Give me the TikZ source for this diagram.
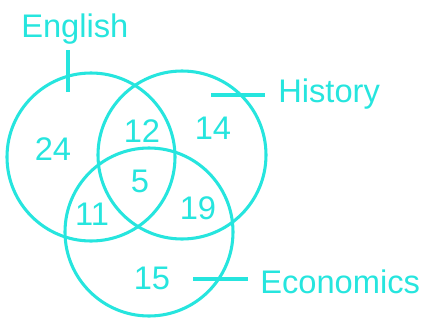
\documentclass[tikz,border=0pt]{standalone}
\usepackage{fontspec}
\setmainfont{Liberation Sans}
\definecolor{venn}{RGB}{38,229,222}
\tikzset{
  set/.style={draw=venn,line width=2.3pt},
  tick/.style={draw=venn,line width=2.3pt},
  num/.style={text=venn,inner sep=0pt,font=\fontsize{24.5}{26}\selectfont},
  setname/.style={text=venn,inner sep=0pt,anchor=base west,font=\fontsize{24.5}{26}\selectfont}
}
\begin{document}
\begin{tikzpicture}[x=0.75pt,y=-0.75pt]
                    \useasboundingbox(0,0)rectangle(426,322);
                    \draw[set](91,157)circle[radius=84];
                    \draw[set](182,155)circle[radius=84];
                    \draw[set](149,232)circle[radius=84];
                    \node[num](eng)at(53,149){24};
                    \node[num](engHis)at(142,131){12};
                    \node[num](his)at(213,128){14};
                    \node[num](all)at(140,181){5};
                    \node[num](engEco)at(92,214){11};
                    \node[num](hisEco)at(198,208){19};
                    \node[num](eco)at(152,278){15};
                    \node[setname](english)at(21,37){English};
                    \node[setname](history)at(278,102){History};
                    \node[setname](economics)at(260,293){Economics};
                    \coordinate(engIn)at(68,92);
                    \coordinate(engOut)at(68,50);
                    \coordinate(hisIn)at(211,95);
                    \coordinate(hisOut)at(265,95);
                    \coordinate(ecoIn)at(193,279);
                    \coordinate(ecoOut)at(248,279);
                    \draw[tick](engIn)--(engOut);
                    \draw[tick](hisIn)--(hisOut);
                    \draw[tick](ecoIn)--(ecoOut);
                \end{tikzpicture}
\end{document}
